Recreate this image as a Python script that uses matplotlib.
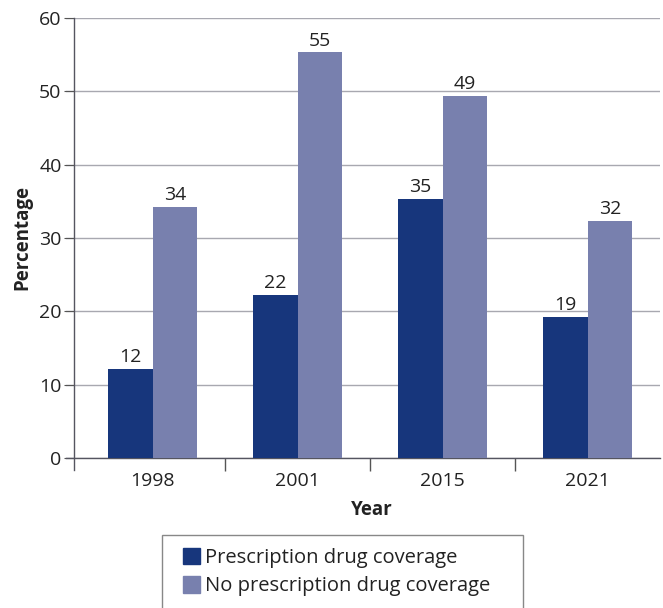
import numpy as np
import matplotlib
matplotlib.use("Agg")
import matplotlib.pyplot as plt
from matplotlib.patches import Patch, Rectangle

plt.rcParams['font.family'] = ['Open Sans', 'DejaVu Sans']

years = ['1998', '2001', '2015', '2021']
rx_cov = [12.2, 22.2, 35.3, 19.2]
no_rx_cov = [34.2, 55.3, 49.4, 32.3]
rx_labels = ['12', '22', '35', '19']
no_rx_labels = ['34', '55', '49', '32']

dark = '#17367c'
light = '#7880ae'
txt = '#222222'

fig = plt.figure(figsize=(6.63, 6.08), dpi=100)
# axes spans 66..660 px so the x axis line pokes out left of the y axis
ax = fig.add_axes([66 / 663, 1 - 458 / 608, 594 / 663, 440 / 608])

x = np.arange(len(years))
w = 0.307
b1 = ax.bar(x - w / 2, rx_cov, w, color=dark, zorder=3)
b2 = ax.bar(x + w / 2, no_rx_cov, w, color=light, zorder=3)

for bars, labs in [(b1, rx_labels), (b2, no_rx_labels)]:
    ax.bar_label(bars, labels=labs, padding=2, fontsize=14, color=txt)

ax.set_xlim(-0.597, 3.5)
ax.set_ylim(0, 60)
ax.set_yticks(range(0, 61, 10))
ax.set_xticks(x)
ax.set_xticklabels(years)
ax.set_xticks(np.arange(0.5, 3.5, 1), minor=True)
ax.tick_params(axis='x', which='major', length=0, labelsize=14, labelcolor=txt, pad=10)
ax.tick_params(axis='x', which='minor', length=9, color='#555555', width=1)
ax.tick_params(axis='y', length=7, color='#555555', labelsize=14, labelcolor=txt, pad=2)

ax.yaxis.grid(True, color='#a8a8b0', linewidth=1, zorder=0)
for s in ['top', 'right']:
    ax.spines[s].set_visible(False)
for s in ['left', 'bottom']:
    ax.spines[s].set_color('#555560')
    ax.spines[s].set_linewidth(1)
ax.spines['left'].set_position(('data', -0.541))
ax.spines['left'].set_bounds(-1.6, 60)
ax.spines['left'].set_zorder(4)

ax.set_ylabel('Percentage', fontsize=13.5, fontweight='bold', color=txt, labelpad=5)
ax.set_xlabel('Year', fontsize=13.5, fontweight='bold', color=txt, labelpad=4)
ax.xaxis.set_label_coords(0.515, -0.095)

# legend frame runs off the bottom of the figure like in the source
fig.patches.append(Rectangle((162 / 663, -0.05), (523 - 162) / 663, 0.05 + 73 / 608,
                             transform=fig.transFigure, fill=False,
                             edgecolor='#888888', linewidth=1))
handles = [Patch(color=dark, label='Prescription drug coverage'),
           Patch(color=light, label='No prescription drug coverage')]
leg = fig.legend(handles=handles, loc='upper left', bbox_to_anchor=(183 / 663, 1 - 548 / 608),
                 fontsize=14.5, frameon=False, handlelength=0.85, handleheight=0.85,
                 handletextpad=0.25, labelspacing=0.42, borderpad=0, borderaxespad=0)
for t in leg.get_texts():
    t.set_color(txt)

fig.savefig('out.png', dpi=100)
